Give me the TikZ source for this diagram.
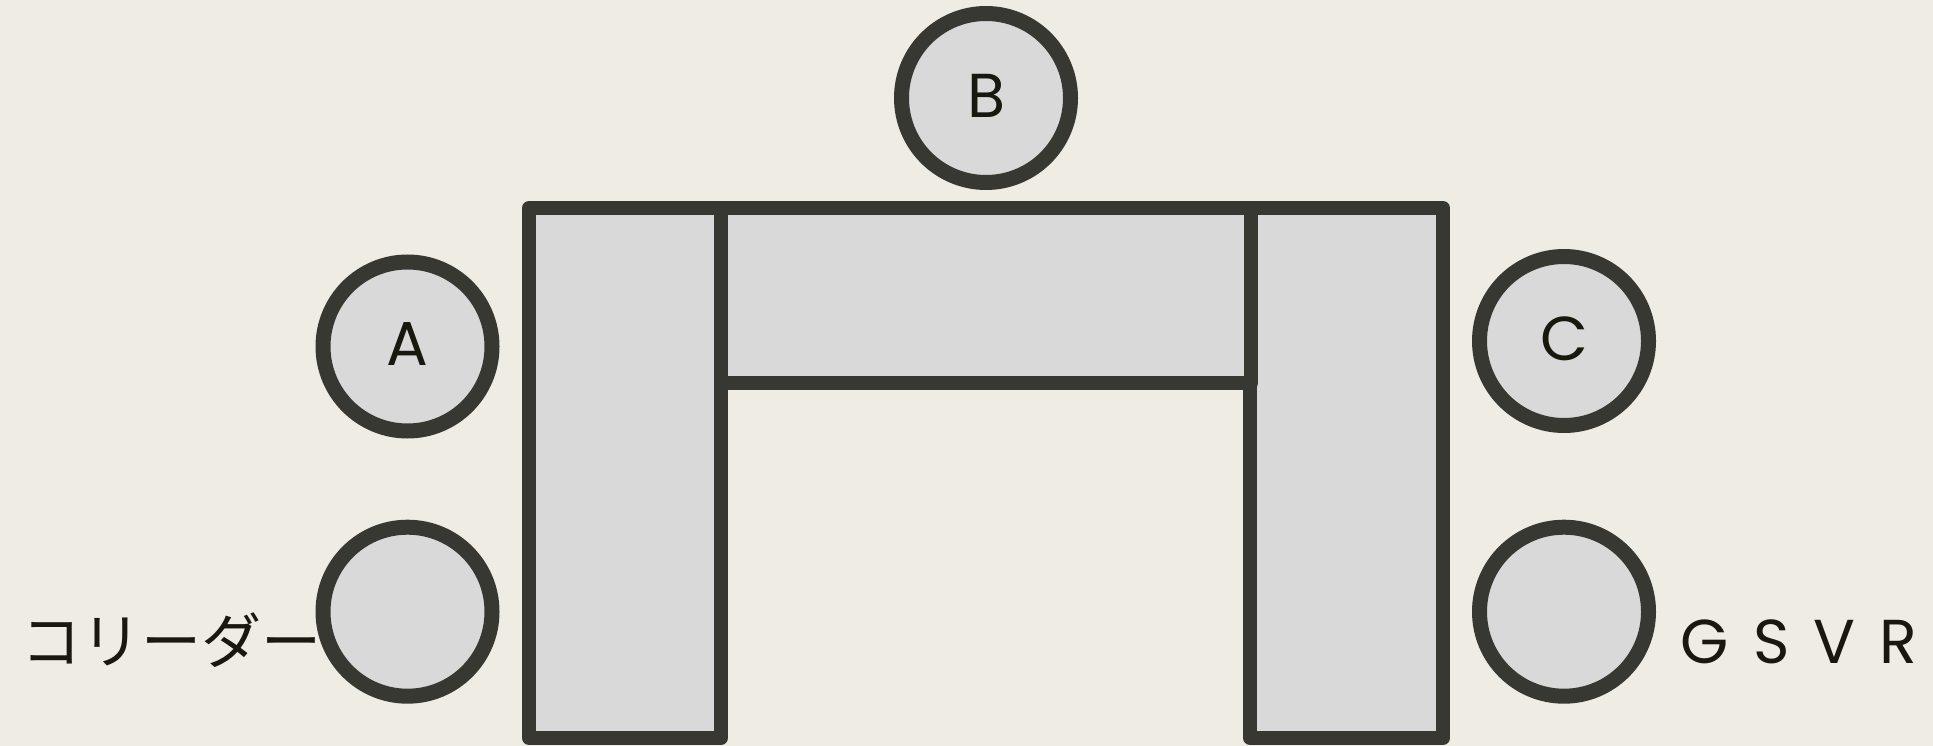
\documentclass[tikz,border=0pt]{standalone}
\usepackage{fontspec}
\setmainfont{Poppins}
\newfontfamily\jpfont{Noto Sans CJK JP}
\definecolor{bgc}{RGB}{239,236,228}
\definecolor{fillc}{RGB}{217,217,217}
\definecolor{edgec}{RGB}{56,56,50}
\definecolor{textc}{RGB}{24,24,14}
\begin{document}
\begin{tikzpicture}[x=1pt,y=-1pt,
  tablebox/.style={fill=fillc,draw=edgec,line width=14pt,line join=round},
  seat/.style={circle,fill=fillc,draw=edgec,line width=15pt,minimum size=169pt,inner sep=0pt,
    text=textc,font=\fontsize{62}{70}\selectfont},
  lbl/.style={text=textc,inner sep=0pt,anchor=base}]
\useasboundingbox[fill=bgc] (0,0) rectangle (1933,746);
% tables
\draw[tablebox] (529,208) rectangle (721,738);
\draw[tablebox] (1250,208) rectangle (1443,738);
\draw[tablebox] (721,208) rectangle (1251,383);
% seats
\node[seat] (B) at (986,98) {\raisebox{4pt}{B}};
\node[seat] (A) at (407.5,346.5) {\raisebox{4pt}{A}};
\node[seat] (C) at (1564,341) {\raisebox{4pt}{C}};
\node[seat] (L) at (407.5,611.7) {};
\node[seat] (R) at (1564,611.7) {};
% labels
\node[lbl,anchor=base east,font=\jpfont\fontsize{60}{66}\selectfont] (jp) at (322,663) {コリーダー};
\node[lbl,font=\fontsize{62}{70}\selectfont] (gsvr) at (1799,663) {G\hspace{24pt}S\hspace{24pt}V\hspace{24pt}R};
\end{tikzpicture}
\end{document}
